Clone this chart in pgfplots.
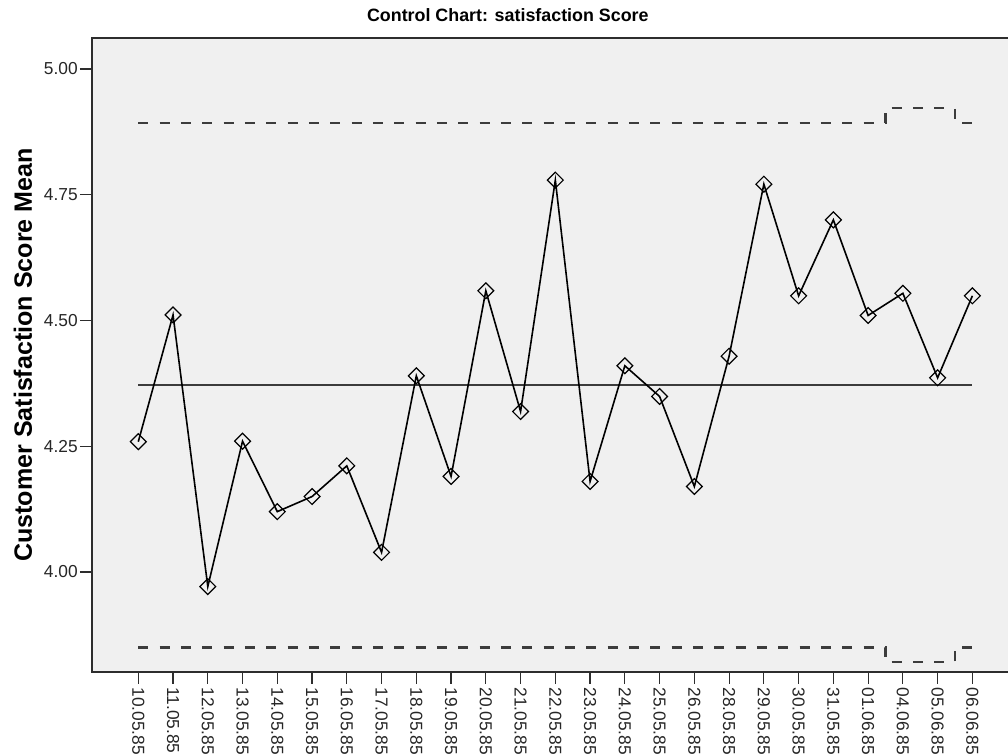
\documentclass[border=0pt]{standalone}
\usepackage{fontspec}
\setmainfont{Liberation Sans}
\usepackage{pgfplots}
\pgfplotsset{compat=1.18}
\definecolor{bgc}{RGB}{240,240,240}
\definecolor{frame}{RGB}{45,45,45}
\definecolor{limc}{RGB}{60,60,60}
\begin{document}
\begin{tikzpicture}
\path[use as bounding box] (0,0) rectangle (756pt,566.25pt);
\begin{axis}[
  at={(69pt,62.25pt)}, anchor=south west,
  scale only axis, width=690pt, height=475.5pt,
  xmin=-1.332, xmax=25.14, ymin=3.8012, ymax=5.0616,
  axis background/.style={fill=bgc},
  axis line style={line width=1pt, frame},
  tick style={line width=0.9pt, frame},
  major tick length=9pt, tick align=outside,
  xtick pos=bottom, ytick pos=left,
  xtick={0,...,24},
  xticklabels={10.05.85,11.05.85,12.05.85,13.05.85,14.05.85,15.05.85,16.05.85,17.05.85,18.05.85,19.05.85,20.05.85,21.05.85,22.05.85,23.05.85,24.05.85,25.05.85,26.05.85,28.05.85,29.05.85,30.05.85,31.05.85,01.06.85,04.06.85,05.06.85,06.06.85},
  xticklabel style={rotate=-90, anchor=west, font=\fontsize{13}{15}\selectfont, xshift=-1pt, text=black!85},
  ytick={4,4.25,4.5,4.75,5},
  yticklabels={4.00,4.25,4.50,4.75,5.00},
  yticklabel style={font=\fontsize{13}{15}\selectfont, text=black!85, inner sep=1.5pt},
  ylabel={\bfseries Customer Satisfaction Score Mean},
  ylabel style={at={(axis description cs:-0.075,0.5)}, anchor=center, rotate=0, font=\fontsize{18.8}{22}\selectfont},
  title={\bfseries Control Chart: satisfaction Score},
  title style={at={(axis description cs:0.452,1)}, anchor=base, yshift=6.5pt, font=\fontsize{13.4}{16}\selectfont},
]
% control limits
\addplot[limc, line width=1.7pt, dash pattern=on 7.5pt off 8.5pt] coordinates {(0,4.893) (21.5,4.893) (21.5,4.922) (23.5,4.922) (23.5,4.893) (24,4.893)};
\addplot[limc, line width=1.7pt, dash pattern=on 7.5pt off 8.5pt] coordinates {(0,3.850) (21.5,3.850) (21.5,3.821) (23.5,3.821) (23.5,3.850) (24,3.850)};
% center line
\addplot[limc, line width=1.3pt] coordinates {(0,4.372) (24,4.372)};
% data
\addplot[black, line width=1.2pt, mark=square, mark size=4.2pt,
  mark options={rotate=45, line width=0.9pt, fill=none}] table {
x y
0 4.259
1 4.511
2 3.971
3 4.260
4 4.120
5 4.150
6 4.211
7 4.039
8 4.390
9 4.190
10 4.559
11 4.319
12 4.779
13 4.180
14 4.410
15 4.349
16 4.170
17 4.429
18 4.771
19 4.549
20 4.700
21 4.510
22 4.554
23 4.386
24 4.549
};
\end{axis}
\end{tikzpicture}
\end{document}
